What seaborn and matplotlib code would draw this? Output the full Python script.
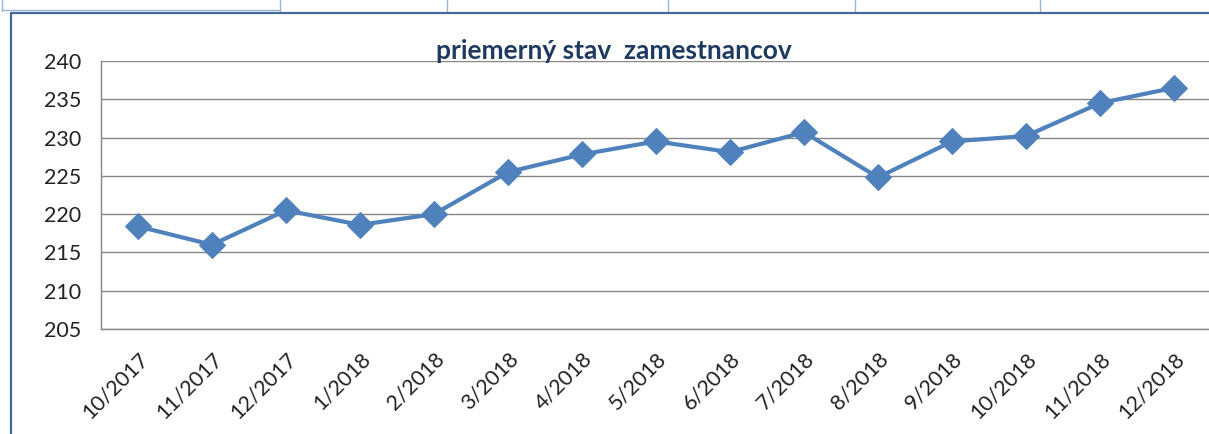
import matplotlib
matplotlib.use("Agg")
import matplotlib.pyplot as plt
from matplotlib.lines import Line2D
from matplotlib.ticker import FixedLocator
import seaborn as sns
import pandas as pd

months = ["10/2017", "11/2017", "12/2017", "1/2018", "2/2018", "3/2018", "4/2018",
          "5/2018", "6/2018", "7/2018", "8/2018", "9/2018", "10/2018", "11/2018", "12/2018"]
staff = [218.4, 216.0, 220.5, 218.6, 220.0, 225.5, 227.8, 229.5,
         228.1, 230.7, 224.8, 229.5, 230.2, 234.5, 236.5]
y_ticks = [205, 210, 215, 220, 225, 230, 235, 240]

df = pd.DataFrame({"mesiac": months, "stav": staff})

sns.set_style("white")
plt.rcParams["font.family"] = ["Lato", "DejaVu Sans"]

W, H = 1209, 434
fig = plt.figure(figsize=(W / 100, H / 100), dpi=100)
ax = fig.add_axes([101 / W, 105 / H, 1110 / W, 268 / H])

sns.lineplot(data=df, x="mesiac", y="stav", ax=ax, color="#4F81BD",
             linewidth=3, marker="D", markersize=13, markeredgecolor="#4F81BD",
             sort=False)

ax.set_ylim(205, 240)
ax.set_xlim(-0.5, len(months) - 0.5)
ax.set_yticks(y_ticks)
ax.set_yticklabels([str(t) for t in y_ticks], fontsize=15.5, color="#222222")
ax.set_xticks(range(len(months)))
ax.set_xticklabels(months, rotation=45, ha="right", rotation_mode="anchor",
                   fontsize=15.5, color="#222222")
ax.xaxis.set_minor_locator(FixedLocator([i - 0.5 for i in range(len(months) + 1)]))
ax.tick_params(axis="x", which="major", length=0, pad=14)
ax.tick_params(axis="x", which="minor", length=6, color="#868686", width=1)
ax.tick_params(axis="y", length=8, color="#868686", width=1, pad=6)
ax.grid(axis="y", color="#868686", linewidth=1)
ax.set_axisbelow(True)
ax.set_xlabel("")
ax.set_ylabel("")
for side in ["top", "right"]:
    ax.spines[side].set_visible(False)
for side in ["left", "bottom"]:
    ax.spines[side].set_color("#868686")
    ax.spines[side].set_linewidth(1)

fig.text(614 / W, 1 - 59 / H, "priemerný stav  zamestnancov", ha="center",
         va="baseline", fontsize=19, fontweight="bold", color="#1F3A60")

# spreadsheet cell borders and chart frame
def px_line(xs, ys, color, lw):
    fig.add_artist(Line2D([x / W for x in xs], [1 - y / H for y in ys],
                          color=color, linewidth=lw, transform=fig.transFigure))

cell = "#9CB2D2"
px_line([2, 280], [10, 10], cell, 1)
for cx in [2, 280, 447, 668, 855, 1040]:
    px_line([cx, cx], [0, 11], cell, 1)
frame = "#46699C"
px_line([11, W], [12.5, 12.5], frame, 1.6)
px_line([11, 11], [12.5, H], frame, 1.6)

fig.savefig("out.png", dpi=100)
